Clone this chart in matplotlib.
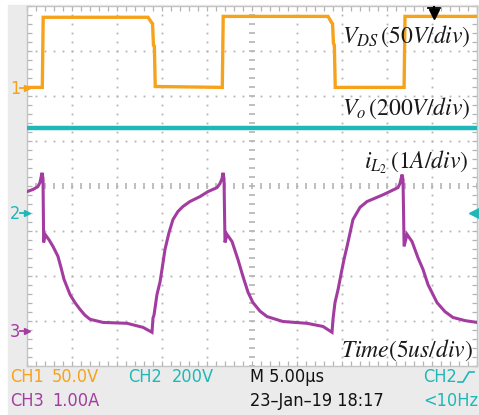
import numpy as np
import matplotlib
matplotlib.use("Agg")
import matplotlib.pyplot as plt
from matplotlib.patches import Rectangle
from matplotlib.lines import Line2D

plt.rcParams['mathtext.fontset'] = 'stix'

# ---- waveform data ----
# CH1: drain-source voltage (V), 50 V/div
vds_t = [0.0, 1.7, 1.8, 13.45, 13.85, 13.95, 14.05, 14.15, 14.25, 21.7, 21.8,
         33.45, 33.85, 33.95, 34.05, 34.15, 34.25, 41.9, 42.0, 50.0]
vds_v = [1, 1, 79, 79, 73, 72, 48, 47, 2, 1, 80,
         80, 73, 72, 50, 48, 1, 1, 80, 80]

# CH2: output voltage (V), 200 V/div
vo_t = [0.0, 50.0]
vo_v = [378, 378]

# CH3: inductor current (A), 1 A/div
il_t = [0.0, 0.67, 1.2, 1.44, 1.67, 1.78, 1.85, 2.0, 2.44, 2.89, 3.44, 3.78,
        4.11, 4.78, 5.33, 5.89, 6.44, 7.0, 8.44, 11.11, 12.89, 13.89,
        14.0, 14.11, 14.44, 14.78, 15.0, 15.33, 15.78, 16.22, 16.78, 17.33,
        18.1, 19.22, 20.1, 21.11, 21.44, 21.67, 21.78, 21.89,
        22.0, 22.22, 22.78, 23.44, 24.0, 24.56, 25.11, 25.89, 26.67, 28.44,
        31.11, 32.89, 33.89,
        34.0, 34.22, 34.56, 34.89, 35.22, 35.56, 36.22, 37.0, 37.78, 39.56,
        41.22, 41.44, 41.67, 41.78, 41.9,
        42.22, 42.78, 43.44, 44.0, 44.56, 45.56, 46.44, 47.33, 48.67, 50.0]
il_a = [3.11, 3.16, 3.22, 3.31, 3.53, 3.40, 1.98, 2.16, 2.04, 1.89, 1.67, 1.42,
        1.16, 0.82, 0.64, 0.49, 0.36, 0.27, 0.20, 0.18, 0.09, -0.02,
        0.30, 0.36, 0.82, 1.10, 1.38, 1.82, 2.20, 2.49, 2.67, 2.78,
        2.89, 3.00, 3.11, 3.20, 3.29, 3.40, 3.53, 3.40,
        1.98, 2.16, 2.00, 1.60, 1.22, 0.87, 0.64, 0.45, 0.33, 0.22,
        0.18, 0.11, -0.02,
        0.27, 0.64, 0.93, 1.27, 1.60, 1.89, 2.49, 2.76, 2.89, 3.04,
        3.20, 3.29, 3.49, 3.38, 1.89,
        2.16, 2.00, 1.64, 1.38, 1.04, 0.64, 0.44, 0.31, 0.24, 0.20]

# channel settings: (volts or amps per division, ground level in divisions)
ch1_scale, ch1_ref = 50.0, 2.18
ch2_scale, ch2_ref = 200.0, -0.59
ch3_scale, ch3_ref = 1.0, -3.23
trigger_t = 45.2

c_ch1 = '#f7a21b'
c_ch2 = '#1fb7b7'
c_ch3 = '#a33ca0'
c_grid = '#b4b4b4'

W, H = 479, 415
fig = plt.figure(figsize=(W / 100, H / 100), dpi=100)
fig.patch.set_facecolor('white')
fig.patches.append(Rectangle((8 / W, 0), 1 - 8 / W, 1 - 5 / H,
                             transform=fig.transFigure, color='#ebebeb', zorder=-10))

left, top, right, bottom = 27, 6.5, 477, 366
ax = fig.add_axes([left / W, 1 - bottom / H, (right - left) / W, (bottom - top) / H])
ax.set_zorder(1)
ax.set_facecolor('white')
ax.set_xlim(0, 50)
ax.set_ylim(-4, 4)

# graticule
for s in ax.spines.values():
    s.set_color('#c4c4c4')
    s.set_linewidth(1.0)
ax.set_xticks(np.arange(0, 50.01, 1))
ax.set_yticks(np.arange(-4, 4.01, 0.2))
ax.tick_params(direction='in', length=3.5, width=0.9, color=c_grid,
               top=True, right=True, labelbottom=False, labelleft=False)

yd = np.arange(-4, 4.01, 0.2)
xd = np.arange(0, 50.01, 1)
for xv in [5, 10, 15, 20, 30, 35, 40, 45]:
    ax.plot(np.full_like(yd, xv), yd, ls='none', marker='s', ms=1.3,
            color=c_grid, mew=0, zorder=1)
for yv in [-3, -2, -1, 1, 2, 3]:
    ax.plot(xd, np.full_like(xd, yv), ls='none', marker='s', ms=1.3,
            color=c_grid, mew=0, zorder=1)
ax.plot(np.full_like(yd, 25), yd, ls='none', marker='_', ms=5, mew=1.2,
        color=c_grid, zorder=1)
ax.plot(xd, np.zeros_like(xd), ls='none', marker='|', ms=5, mew=1.2,
        color=c_grid, zorder=1)

# traces
ax.plot(vds_t, np.array(vds_v) / ch1_scale + ch1_ref, color=c_ch1, lw=2.4,
        solid_joinstyle='miter', zorder=3)
ax.plot(vo_t, np.array(vo_v) / ch2_scale + ch2_ref, color=c_ch2, lw=3.2, zorder=3)
ax.plot(il_t, np.array(il_a) / ch3_scale + ch3_ref, color=c_ch3, lw=2.2,
        solid_joinstyle='miter', zorder=3)

# trigger position marker on the top edge
ax.plot([trigger_t, trigger_t], [4.0, 3.85], color='black', lw=1.5,
        clip_on=False, zorder=5)
ax.plot([trigger_t], [3.83], marker='v', ms=7, color='black', clip_on=False, zorder=5)
ax.plot([trigger_t - 0.7, trigger_t + 0.7], [3.96, 3.96], color='black', lw=1.3,
        clip_on=False, zorder=5)


def px(x, y):
    return x / W, 1 - y / H


scope_font = dict(family='DejaVu Sans', fontstretch='condensed', fontsize=13)

# channel ground markers on the left edge
for label, ref, col in [('1', ch1_ref, c_ch1), ('2', ch2_ref, c_ch2), ('3', ch3_ref, c_ch3)]:
    y = (4 - ref) / 8 * (bottom - top) + top
    fig.text(*px(10, y + 1), label, color=col, ha='left', va='center', **scope_font)
    fig.add_artist(Line2D([20 / W, 25 / W], [1 - y / H] * 2, color=col, lw=1.3))
    ax.plot([0], [ref], marker='>', ms=5, color=col, clip_on=False, zorder=5)

# CH2 trigger level marker on the right edge
ax.plot([49.7], [ch2_ref], marker='<', ms=7, color=c_ch2, clip_on=False, zorder=5)
ax.plot([49.7, 50.0], [ch2_ref, ch2_ref], color=c_ch2, lw=1.5, clip_on=False, zorder=5)

# signal annotations
ann = dict(fontsize=17, color='#1a1a1a', ha='right', va='center', zorder=10)
fig.text(*px(471, 36), r'$V_{DS}\,\left(\mathit{50V/div}\right)$', **ann)
fig.text(*px(471, 108), r'$V_{o}\,\left(\mathit{200V/div}\right)$', **ann)
fig.text(*px(469, 162), r'$i_{L_2}\,\left(\mathit{1A/div}\right)$', **ann)
fig.text(*px(473, 350), r'$\mathit{Time}\left(\mathit{5us/div}\right)$', **ann)

# status bar
fig.text(*px(10, 377), 'CH1', color=c_ch1, ha='left', va='center', **scope_font)
fig.text(*px(52, 377), '50.0V', color=c_ch1, ha='left', va='center', **scope_font)
fig.text(*px(128, 377), 'CH2', color=c_ch2, ha='left', va='center', **scope_font)
fig.text(*px(172, 377), '200V', color=c_ch2, ha='left', va='center', **scope_font)
fig.text(*px(250, 377), 'M 5.00\u00b5s', color='#111111', ha='left', va='center', **scope_font)
fig.text(*px(423, 377), 'CH2', color=c_ch2, ha='left', va='center', **scope_font)
fig.add_artist(Line2D([458 / W, 463 / W, 469 / W, 474 / W],
                      [1 - 382 / H, 1 - 382 / H, 1 - 372 / H, 1 - 372 / H],
                      color=c_ch2, lw=1.2))
fig.text(*px(10, 401), 'CH3', color=c_ch3, ha='left', va='center', **scope_font)
fig.text(*px(52, 401), '1.00A', color=c_ch3, ha='left', va='center', **scope_font)
fig.text(*px(250, 401), '23\u2013Jan\u201319 18:17', color='#111111', ha='left',
         va='center', **scope_font)
fig.text(*px(423, 401), '<10Hz', color=c_ch2, ha='left', va='center', **scope_font)

fig.savefig('out.png', dpi=100)
